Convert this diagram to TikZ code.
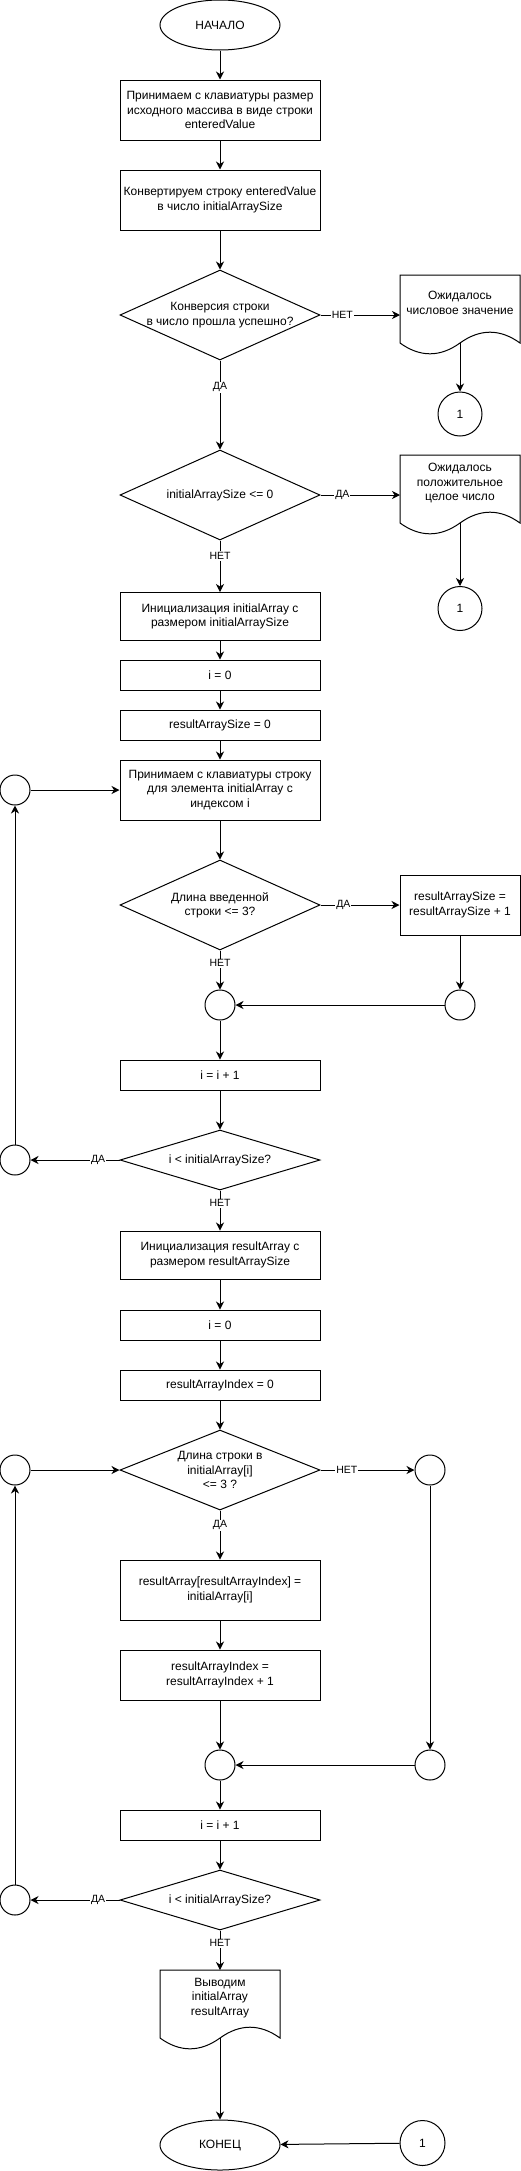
\documentclass[tikz,border=0pt]{standalone}
\usepackage{fontspec}
\setmainfont{Liberation Sans}
\usetikzlibrary{shapes.geometric,arrows.meta,calc}
\newcommand\docoutline[1]{%
  \draw[line width=1pt] ($(#1)+(-60,-28)$) -- ($(#1)+(60,-28)$) -- ($(#1)+(60,40)$)
    .. controls ($(#1)+(40,25.6)$) and ($(#1)+(20,25.6)$) .. ($(#1)+(0,40)$)
    .. controls ($(#1)+(-20,54.4)$) and ($(#1)+(-40,54.4)$) .. ($(#1)+(-60,40)$) -- cycle;}
\begin{document}
\begin{tikzpicture}[x=1pt,y=-1pt,
  every node/.style={font=\fontsize{12}{14.4}\selectfont, align=center},
  box/.style={draw, line width=1pt, rectangle, inner sep=0pt, minimum width=200pt, minimum height=60pt},
  term/.style={draw, line width=1pt, ellipse, inner sep=0pt, minimum width=120pt, minimum height=50pt},
  dec/.style={draw, line width=1pt, diamond, inner sep=0pt, minimum width=200pt},
  conn/.style={draw, line width=1pt, circle, inner sep=0pt, minimum size=30pt},
  ref/.style={draw, line width=1pt, circle, inner sep=0pt, minimum size=44pt},
  doctext/.style={inner sep=0pt},
  arr/.style={line width=1pt, -{Stealth[length=8pt,width=8pt,inset=2.5pt]}},
  lbl/.style={fill=white, inner sep=1pt, font=\fontsize{10.5}{12}\selectfont},
]
\useasboundingbox (0,0) rectangle (521,2171);

% ---- nodes ----
\node[term] (start) at (220,25) {НАЧАЛО};
\node[box] (b1) at (220,110) {Принимаем с клавиатуры размер\\исходного массива в виде строки\\enteredValue};
\node[box] (b2) at (220,200) {Конвертируем строку enteredValue\\в число initialArraySize};
\node[dec, minimum height=90pt, label={center:{Конверсия строки\\в число прошла успешно?}}] (q1) at (220,315) {};
\node[doctext] (d1) at (460,303) {Ожидалось\\числовое значение};
\docoutline{d1}
\coordinate (d1l) at ($(d1)+(-60,12)$);
\coordinate (d1b) at ($(d1)+(0,40)$);
\node[ref] (c1) at (460,414) {1};

\node[dec, minimum height=90pt, label={center:{initialArraySize <= 0}}] (q2) at (220,495) {};
\node[doctext] (d2) at (460,483) {Ожидалось\\положительное\\целое число};
\docoutline{d2}
\coordinate (d2l) at ($(d2)+(-60,12)$);
\coordinate (d2b) at ($(d2)+(0,40)$);
\node[ref] (c2) at (460,608.5) {1};

\node[box, minimum height=48pt] (b3) at (220,616.5) {Инициализация initialArray с\\размером initialArraySize};
\node[box, minimum height=30pt] (b4) at (220,675) {i = 0};
\node[box, minimum height=30pt] (b5) at (220,725) {resultArraySize = 0};
\node[box] (b6) at (220,790) {Принимаем с клавиатуры строку\\для элемента initialArray с\\индексом i};
\node[conn] (L1) at (15,790) {};
\node[dec, minimum height=90pt, label={center:{Длина введенной\\строки <= 3?}}] (q3) at (220,905) {};
\node[box, minimum width=120pt] (b7) at (460,905) {resultArraySize =\\resultArraySize + 1};
\node[conn] (m1) at (220,1005) {};
\node[conn] (r1) at (460,1005) {};
\node[box, minimum height=30pt] (b8) at (220,1075) {i = i + 1};
\node[dec, minimum height=60pt, label={center:{i < initialArraySize?}}] (q4) at (220,1160) {};
\node[conn] (L2) at (15,1160) {};

\node[box, minimum height=48pt] (b9) at (220,1255) {Инициализация resultArray с\\размером resultArraySize};
\node[box, minimum height=30pt] (b10) at (220,1325) {i = 0};
\node[box, minimum height=30pt] (b11) at (220,1385) {resultArrayIndex = 0};
\node[dec, minimum height=80pt, label={center:{Длина строки в\\initialArray[i]\\<= 3 ?}}] (q5) at (220,1470) {};
\node[conn] (L3) at (15,1470) {};
\node[conn] (R2) at (430,1470) {};
\node[box] (b12) at (220,1590) {resultArray[resultArrayIndex] =\\initialArray[i]};
\node[box, minimum height=50pt] (b13) at (220,1675) {resultArrayIndex =\\resultArrayIndex + 1};
\node[conn] (m2) at (220,1765) {};
\node[conn] (R3) at (430,1765) {};
\node[box, minimum height=30pt] (b14) at (220,1825) {i = i + 1};
\node[dec, minimum height=60pt, label={center:{i < initialArraySize?}}] (q6) at (220,1900) {};
\node[conn] (L4) at (15,1900) {};
\node[doctext] (d3) at (220,1998) {Выводим\\initialArray\\resultArray};
\docoutline{d3}
\coordinate (d3t) at ($(d3)+(0,-28)$);
\coordinate (d3b) at ($(d3)+(0,40)$);
\node[term] (stop) at (220,2145) {КОНЕЦ};
\node[ref, minimum size=45pt] (c3) at (422.5,2143) {1};

% ---- connectors ----
\draw[arr] (start) -- (b1);
\draw[arr] (b1) -- (b2);
\draw[arr] (b2) -- (q1);
\draw[arr] (q1.east) -- node[lbl,pos=0.275]{НЕТ} (d1l);
\draw[arr] (d1b) -- (c1);
\draw[arr] (q1) -- node[lbl,pos=0.3]{ДА} (q2);
\draw[arr] (q2.east) -- node[lbl,pos=0.275]{ДА} (d2l);
\draw[arr] (d2b) -- (c2);
\draw[arr] (q2) -- node[lbl,pos=0.3]{НЕТ} (b3);
\draw[arr] (b3) -- (b4);
\draw[arr] (b4) -- (b5);
\draw[arr] (b5) -- (b6);
\draw[arr] (L1) -- (b6);
\draw[arr] (b6) -- (q3);
\draw[arr] (q3.east) -- node[lbl,pos=0.29]{ДА} (b7);
\draw[arr] (q3) -- node[lbl,pos=0.33]{НЕТ} (m1);
\draw[arr] (b7) -- (r1);
\draw[arr] (r1) -- (m1);
\draw[arr] (m1) -- (b8);
\draw[arr] (b8) -- (q4);
\draw[arr] (q4.west) -- node[lbl,pos=0.24]{ДА} (L2);
\draw[arr] (L2) -- (L1);
\draw[arr] (q4) -- node[lbl,pos=0.32]{НЕТ} (b9);
\draw[arr] (b9) -- (b10);
\draw[arr] (b10) -- (b11);
\draw[arr] (b11) -- (q5);
\draw[arr] (L3) -- (q5);
\draw[arr] (q5.east) -- node[lbl,pos=0.28]{НЕТ} (R2);
\draw[arr] (q5) -- node[lbl,pos=0.3]{ДА} (b12);
\draw[arr] (b12) -- (b13);
\draw[arr] (b13) -- (m2);
\draw[arr] (R2) -- (R3);
\draw[arr] (R3) -- (m2);
\draw[arr] (m2) -- (b14);
\draw[arr] (b14) -- (q6);
\draw[arr] (q6.west) -- node[lbl,pos=0.24]{ДА} (L4);
\draw[arr] (L4) -- (L3);
\draw[arr] (q6) -- node[lbl,pos=0.32]{НЕТ} (d3t);
\draw[arr] (d3b) -- (stop);
\draw[arr] (c3) -- (stop);
\end{tikzpicture}
\end{document}
